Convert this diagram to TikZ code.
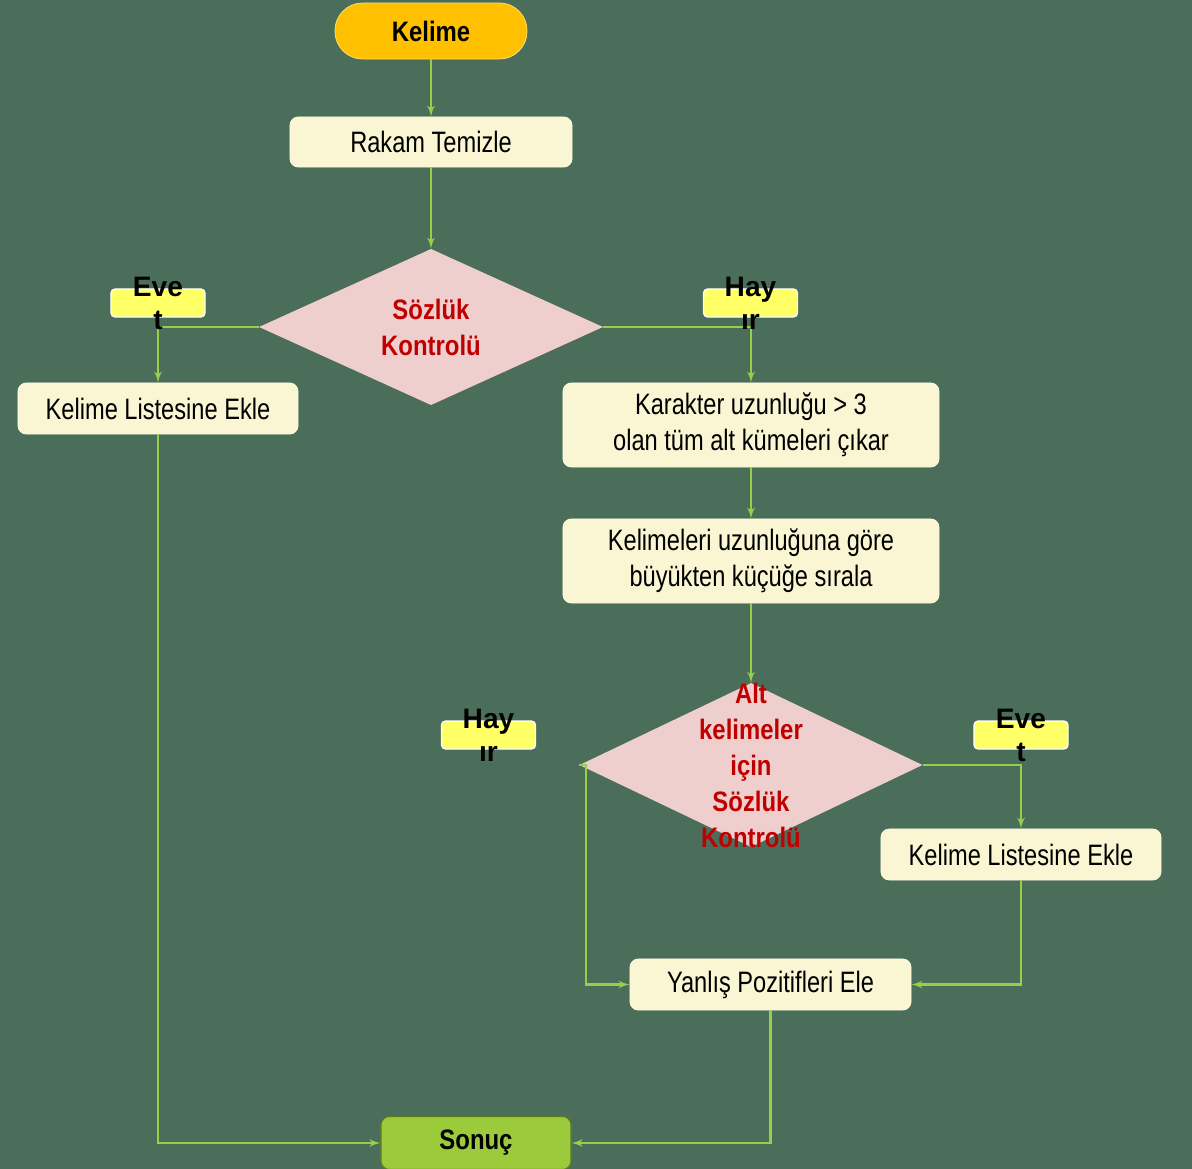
\documentclass[tikz,border=0pt]{standalone}
\usepackage{fontspec}
\setmainfont{Liberation Sans}
\newfontfamily\narrowfont[FakeStretch=0.8]{Liberation Sans}
\newfontfamily\headfont[FakeStretch=0.85]{Liberation Sans}
\usepackage{xcolor}
\usepackage{tikz}
\usetikzlibrary {positioning}
\usetikzlibrary{arrows}
\usetikzlibrary{shapes.geometric}
\definecolor{bgcol}{HTML}{4A6E5A}
\definecolor{linecol}{HTML}{96D04A}
\definecolor{startcol}{HTML}{FFC000}
\definecolor{boxcol}{HTML}{FAF5D2}
\definecolor{diacol}{HTML}{EFCECE}
\definecolor{diatext}{HTML}{C00000}
\definecolor{tagcol}{HTML}{FFFF66}
\definecolor{endcol}{HTML}{9BCB3B}
\tikzset{edge/.style = {->,> = latex', draw=linecol, line width=1.7pt}}

\begin{document}
\begin{tikzpicture}[x=0.025cm,y=-0.025cm,
    step node/.style={rectangle,rounded corners=6pt,fill=boxcol,draw=boxcol!70!white,line width=0.6pt,
        minimum width=7cm,minimum height=1.275cm,align=center,font=\narrowfont\fontsize{21}{25.6}\selectfont},
    check node/.style={diamond,fill=diacol,inner sep=0pt,align=center,
        text=diatext,font=\headfont\bfseries\fontsize{20}{25.6}\selectfont},
    tag node/.style={rectangle,rounded corners=3pt,fill=tagcol,draw=white,line width=1pt,
        minimum width=2.35cm,minimum height=0.7cm},
    tag text/.style={align=center,inner sep=0pt,font=\bfseries\fontsize{20}{23.5}\selectfont}]

    \fill[bgcol] (0,0) rectangle (1192,1169);
    \useasboundingbox (0,0) rectangle (1192,1169);

    \node[rectangle,rounded corners=0.69cm,fill=startcol,draw=startcol!60!white,line width=0.6pt,
        minimum width=4.8cm,minimum height=1.4cm,font=\headfont\bfseries\fontsize{20}{24}\selectfont]
        (kelime) at (431,31) {Kelime};
    \node[step node,minimum width=7.05cm,minimum height=1.25cm] (rakam) at (431,142) {Rakam Temizle};
    \node[check node,minimum width=8.6cm,minimum height=3.875cm] (sozluk) at (431,327) {Sözlük\\Kontrolü};
    \node[step node] (ekle1) at (158,408.5) {Kelime Listesine Ekle};
    \node[step node,minimum width=9.4cm,minimum height=2.1cm] (karakter) at (751,425)
        {Karakter uzunluğu > 3\\olan tüm alt kümeleri çıkar};
    \node[step node,minimum width=9.4cm,minimum height=2.1cm] (siralama) at (751,561)
        {Kelimeleri uzunluğuna göre\\büyükten küçüğe sırala};
    \node[check node,minimum width=8.575cm,minimum height=4.1cm] (altkontrol) at (751,765) {};
    \node[step node] (ekle2) at (1021,854.5) {Kelime Listesine Ekle};
    \node[step node,minimum width=7.025cm] (yanlis) at (770.5,984.5) {Yanlış Pozitifleri Ele};
    \node[rectangle,rounded corners=6pt,fill=endcol,draw=endcol!60!black,line width=0.8pt,
        minimum width=4.75cm,minimum height=1.325cm,font=\headfont\bfseries\fontsize{20}{24}\selectfont]
        (sonuc) at (476,1143) {Sonuç};

    % connectors
    \draw[edge] (kelime) -- (rakam);
    \draw[edge] (rakam) -- (sozluk);
    \draw[edge] (sozluk.west) -| (ekle1);
    \draw[edge] (sozluk.east) -| (karakter);
    \draw[edge] (karakter) -- (siralama);
    \draw[edge] (siralama) -- (altkontrol);
    \draw[edge] (altkontrol.east) -| (ekle2);
    \draw[edge] (altkontrol.west) -- ++(7,0) |- (yanlis);
    \draw[edge] (ekle2) |- (yanlis);
    \draw[edge] (ekle1) |- (sonuc);
    \draw[edge] (yanlis) |- (sonuc);

    \node[align=center,text=diatext,font=\headfont\bfseries\fontsize{20}{25.6}\selectfont]
        (alttext) at (751,765) {Alt\\kelimeler\\için\\Sözlük\\Kontrolü};

    % yes / no tags
    \node[tag node] (evet1) at (158,303) {};
    \node[tag text] at (evet1) {Eve\\t};
    \node[tag node] (hayir1) at (750.5,303) {};
    \node[tag text] at (hayir1) {Hay\\ır};
    \node[tag node] (hayir2) at (488.5,735) {};
    \node[tag text] at (hayir2) {Hay\\ır};
    \node[tag node] (evet2) at (1021,735) {};
    \node[tag text] at (evet2) {Eve\\t};
\end{tikzpicture}
\end{document}
